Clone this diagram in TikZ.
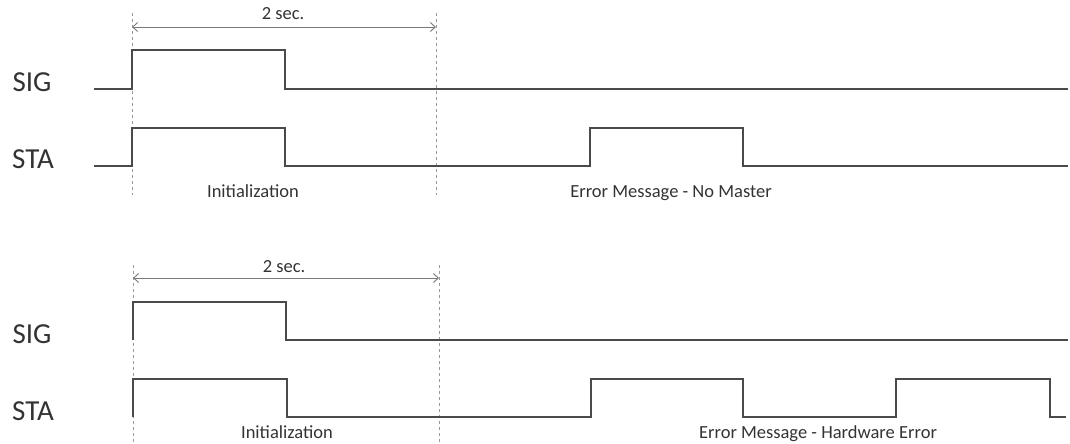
\documentclass[tikz,border=0pt]{standalone}
\usepackage{fontspec}
\setmainfont{Carlito}
\usetikzlibrary{arrows.meta}
\definecolor{sigc}{HTML}{4A4A4A}
\definecolor{dashc}{HTML}{9A9A9A}
\definecolor{dimc}{HTML}{7A7A7A}
\definecolor{txtc}{HTML}{333333}
\tikzset{
  wave/.style={draw=sigc, line width=1.6pt, line join=miter},
  guide/.style={draw=dashc, line width=0.8pt, dash pattern=on 3pt off 3pt},
  dimline/.style={draw=dimc, line width=0.9pt, {Straight Barb[length=5pt,width=9pt]}-{Straight Barb[length=5pt,width=9pt]}},
  lbl/.style={anchor=base, inner sep=0pt, text=txtc, font=\fontsize{18.5}{20}\selectfont},
  sname/.style={anchor=base, inner sep=0pt, text=txtc, font=\fontsize{29}{32}\selectfont}
}
\begin{document}
\begin{tikzpicture}[x=1pt,y=-1pt]
\useasboundingbox (0,0) rectangle (1070,444);
% ---------- top diagram ----------
\coordinate (t1a) at (132,13);  \coordinate (t1b) at (132,195);
\coordinate (t2a) at (436,13);  \coordinate (t2b) at (436,195);
\draw[guide] (t1a) -- (t1b);
\draw[guide] (t2a) -- (t2b);
\coordinate (da1) at (132,27); \coordinate (db1) at (436,27);
\draw[dimline] (da1) -- (db1);
\node[lbl] (sec1) at (283,20) {2 sec.};
\node[sname] (sig1) at (32,92) {SIG};
\node[sname] (sta1) at (33,168) {STA};
\draw[wave] (94,89) -- (132,89) -- (132,50) -- (285,50) -- (285,89) -- (1068,89);
\draw[wave] (94,166) -- (132,166) -- (132,128) -- (285,128) -- (285,166)
  -- (590,166) -- (590,128) -- (743,128) -- (743,166) -- (1068,166);
\node[lbl] (init1) at (253,197) {Initialization};
\node[lbl] (err1) at (671,197) {Error Message - No Master};
% ---------- bottom diagram ----------
\coordinate (b1a) at (133,265); \coordinate (b1b) at (133,444);
\coordinate (b2a) at (439,265); \coordinate (b2b) at (439,444);
\draw[guide] (b1a) -- (b1b);
\draw[guide] (b2a) -- (b2b);
\coordinate (da2) at (133,278); \coordinate (db2) at (439,278);
\draw[dimline] (da2) -- (db2);
\node[lbl] (sec2) at (284,272) {2 sec.};
\node[sname] (sig2) at (32,343) {SIG};
\node[sname] (sta2) at (33,420) {STA};
\draw[wave] (133,340) -- (133,302) -- (286,302) -- (286,340) -- (1068,340);
\draw[wave] (133,417) -- (133,379) -- (287,379) -- (287,417)
  -- (591,417) -- (591,379) -- (743,379) -- (743,417)
  -- (896,417) -- (896,379) -- (1050,379) -- (1050,417) -- (1066,417);
\node[lbl] (init2) at (287,438) {Initialization};
\node[lbl] (err2) at (818,438) {Error Message - Hardware Error};
\end{tikzpicture}
\end{document}
